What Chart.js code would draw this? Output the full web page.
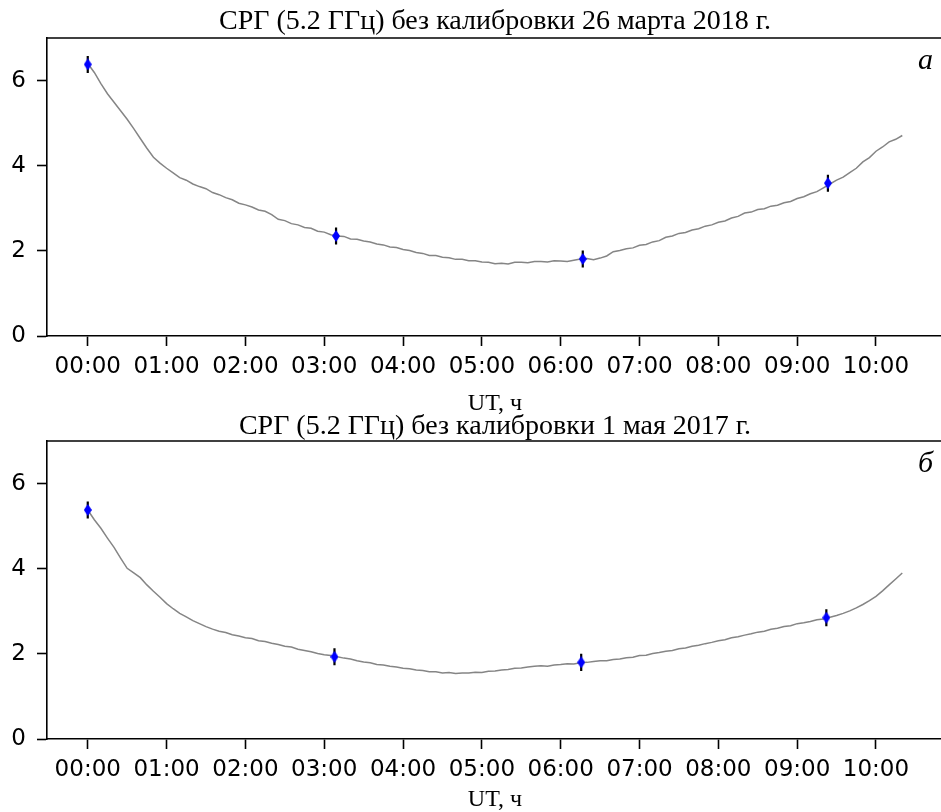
<!DOCTYPE html>
<html>
<head>
<meta charset="utf-8">
<script src="https://cdn.jsdelivr.net/npm/chart.js@4/dist/chart.umd.min.js"></script>
<style>
  html, body { margin: 0; padding: 0; background: #fff; overflow: hidden; }
  body { width: 941px; height: 812px; position: relative; }
  .box { position: absolute; left: 0; width: 950px; }
  #top { top: 0; height: 420px; }
  #bottom { top: 403px; height: 413px; }
</style>
</head>
<body>
<div class="box" id="top"><canvas id="chartA"></canvas></div>
<div class="box" id="bottom"><canvas id="chartB"></canvas></div>
<script>
// time of each sample, minutes after 00:00 UT
const minutes = [
  0, 5, 10, 15, 20, 25, 30, 35, 40, 45, 50, 55,
  60, 65, 70, 75, 80, 85, 90, 95, 100, 105, 110, 115,
  120, 125, 130, 135, 140, 145, 150, 155, 160, 165, 170, 175,
  180, 185, 190, 195, 200, 205, 210, 215, 220, 225, 230, 235,
  240, 245, 250, 255, 260, 265, 270, 275, 280, 285, 290, 295,
  300, 305, 310, 315, 320, 325, 330, 335, 340, 345, 350, 355,
  360, 365, 370, 375, 380, 385, 390, 395, 400, 405, 410, 415,
  420, 425, 430, 435, 440, 445, 450, 455, 460, 465, 470, 475,
  480, 485, 490, 495, 500, 505, 510, 515, 520, 525, 530, 535,
  540, 545, 550, 555, 560, 565, 570, 575, 580, 585, 590, 595,
  600, 605, 610, 615, 620
];

// 26 марта 2018
const valuesA = [
  6.40, 6.19, 5.93, 5.69, 5.49, 5.29, 5.09, 4.87, 4.64, 4.41, 4.20, 4.06,
  3.94, 3.83, 3.72, 3.66, 3.57, 3.51, 3.46, 3.37, 3.32, 3.25, 3.20, 3.12,
  3.08, 3.03, 2.96, 2.93, 2.85, 2.74, 2.71, 2.64, 2.61, 2.55, 2.53, 2.46,
  2.44, 2.38, 2.35, 2.34, 2.28, 2.27, 2.23, 2.21, 2.16, 2.14, 2.09, 2.08,
  2.03, 2.01, 1.96, 1.94, 1.89, 1.89, 1.85, 1.84, 1.80, 1.80, 1.77, 1.77,
  1.74, 1.73, 1.70, 1.71, 1.69, 1.73, 1.73, 1.72, 1.75, 1.75, 1.74, 1.77,
  1.76, 1.75, 1.78, 1.81, 1.82, 1.79, 1.83, 1.88, 1.98, 2.01, 2.05, 2.07,
  2.13, 2.15, 2.21, 2.24, 2.32, 2.35, 2.41, 2.43, 2.49, 2.52, 2.58, 2.61,
  2.67, 2.70, 2.77, 2.81, 2.89, 2.91, 2.97, 2.99, 3.05, 3.07, 3.13, 3.16,
  3.23, 3.27, 3.34, 3.39, 3.48, 3.57, 3.66, 3.73, 3.84, 3.94, 4.09, 4.19,
  4.34, 4.44, 4.56, 4.62, 4.71
];
const markerHoursA = [0, 3.15, 6.28, 9.39];
const markerValuesA = [6.38, 2.35, 1.81, 3.59];
const errorsA = [0.2, 0.2, 0.2, 0.2];

// 1 мая 2017
const valuesB = [
  5.38, 5.15, 4.95, 4.72, 4.50, 4.25, 4.01, 3.90, 3.79, 3.62, 3.47, 3.33,
  3.18, 3.06, 2.95, 2.87, 2.78, 2.71, 2.64, 2.58, 2.53, 2.50, 2.45, 2.42,
  2.38, 2.36, 2.31, 2.29, 2.25, 2.22, 2.18, 2.16, 2.11, 2.08, 2.05, 2.01,
  1.98, 1.96, 1.93, 1.90, 1.88, 1.84, 1.81, 1.79, 1.75, 1.74, 1.71, 1.69,
  1.66, 1.65, 1.62, 1.61, 1.58, 1.58, 1.55, 1.56, 1.54, 1.55, 1.55, 1.57,
  1.56, 1.59, 1.60, 1.62, 1.63, 1.66, 1.67, 1.69, 1.71, 1.72, 1.71, 1.74,
  1.75, 1.77, 1.76, 1.79, 1.80, 1.82, 1.84, 1.84, 1.87, 1.88, 1.91, 1.92,
  1.96, 1.97, 2.01, 2.03, 2.06, 2.08, 2.12, 2.14, 2.18, 2.20, 2.24, 2.27,
  2.31, 2.33, 2.38, 2.40, 2.44, 2.47, 2.51, 2.53, 2.58, 2.60, 2.64, 2.66,
  2.71, 2.73, 2.76, 2.80, 2.82, 2.86, 2.90, 2.95, 3.01, 3.08, 3.16, 3.25,
  3.35, 3.48, 3.62, 3.76, 3.90
];
const markerHoursB = [0, 3.13, 6.26, 9.37];
const markerValuesB = [5.38, 1.93, 1.80, 2.85];
const errorsB = [0.2, 0.2, 0.2, 0.2];

const xTickValues = [0, 1, 2, 3, 4, 5, 6, 7, 8, 9, 10];
const xTickLabels = ['00:00', '01:00', '02:00', '03:00', '04:00', '05:00',
                     '06:00', '07:00', '08:00', '09:00', '10:00'];
const yTickValues = [0, 2, 4, 6];

// thin blue diamond like matplotlib 'd'
const diamond = document.createElement('canvas');
diamond.width = 8; diamond.height = 12;
(function(){
  const c = diamond.getContext('2d');
  c.fillStyle = '#0000ff';
  c.beginPath();
  c.moveTo(4, 0); c.lineTo(8, 6); c.lineTo(4, 12); c.lineTo(0, 6);
  c.closePath(); c.fill();
})();

const framePlugin = {
  id: 'frame',
  afterDraw(chart, args, opts) {
    const {ctx, chartArea: a} = chart;
    ctx.save();
    ctx.strokeStyle = '#000';
    ctx.lineWidth = 1.6;
    ctx.beginPath();
    ctx.moveTo(a.left, a.top); ctx.lineTo(a.right, a.top);
    ctx.stroke();
    ctx.fillStyle = '#000';
    ctx.font = 'italic 30px "Liberation Serif"';
    ctx.textAlign = 'right';
    ctx.textBaseline = 'alphabetic';
    ctx.fillText(opts.letter, 933, a.top + 31);
    ctx.restore();
  }
};

function makeChart(id, title, values, mHours, mValues, errs, letter, height, titlePad, utPad) {
  const line = minutes.map((m, i) => ({x: m / 60, y: values[i]}));
  const marks = mHours.map((h, i) => ({x: h, y: mValues[i]}));
  const bars = [];
  mHours.forEach((h, i) => {
    bars.push({x: h, y: mValues[i] - errs[i]});
    bars.push({x: h, y: mValues[i] + errs[i]});
    bars.push({x: h, y: null});
  });
  const tickFont = {family: 'DejaVu Sans', size: 23};
  return new Chart(document.getElementById(id), {
    type: 'line',
    data: {
      datasets: [
        {data: marks, showLine: false, pointStyle: diamond, pointRadius: 6, order: 0},
        {data: bars, borderColor: '#000', borderWidth: 2.2, pointRadius: 0, spanGaps: false, order: 1},
        {data: line, borderColor: '#858585', borderWidth: 1.5, pointRadius: 0, order: 2}
      ]
    },
    options: {
      responsive: true,
      maintainAspectRatio: false,
      animation: false,
      layout: {padding: {left: 0, right: 2, top: 0, bottom: 0}},
      plugins: {
        legend: {display: false},
        tooltip: {enabled: false},
        title: {
          display: true, text: title, color: '#000', fullSize: false,
          font: {family: 'Liberation Serif', size: 28, weight: 'normal'},
          padding: titlePad
        },
        frame: {letter: letter}
      },
      scales: {
        x: {
          type: 'linear', min: -0.517, max: 10.85,
          afterFit(s) { s.height = height - 336; },
          afterBuildTicks(s) { s.ticks = xTickValues.map(v => ({value: v})); },
          ticks: {
            color: '#000', font: tickFont, padding: 7, maxRotation: 0, autoSkip: false,
            callback: (v) => xTickLabels[xTickValues.indexOf(v)]
          },
          grid: {drawOnChartArea: false, drawTicks: true, tickLength: 10, tickColor: '#000', tickWidth: 1.6},
          border: {display: true, color: '#000', width: 1.6},
          title: {
            display: true, text: 'UT, ч', color: '#000',
            font: {family: 'Liberation Serif', size: 24},
            padding: {top: 0, bottom: utPad}
          }
        },
        y: {
          min: 0, max: 7,
          afterFit(s) { s.width = 47; },
          afterBuildTicks(s) { s.ticks = yTickValues.map(v => ({value: v})); },
          ticks: {color: '#000', font: tickFont, padding: 11},
          grid: {drawOnChartArea: false, drawTicks: true, tickLength: 10, tickColor: '#000', tickWidth: 1.6},
          border: {display: true, color: '#000', width: 1.6}
        }
      }
    },
    plugins: [framePlugin]
  });
}

makeChart('chartA', 'СРГ (5.2 ГГц) без калибровки 26 марта 2018 г.', valuesA,
          markerHoursA, markerValuesA, errorsA, 'а', 420, {top: 4.4, bottom: 0}, 1.6);
makeChart('chartB', 'СРГ (5.2 ГГц) без калибровки 1 мая 2017 г.', valuesB,
          markerHoursB, markerValuesB, errorsB, 'б', 413, {top: 6.4, bottom: -2}, 1.6);
</script>
</body>
</html>
